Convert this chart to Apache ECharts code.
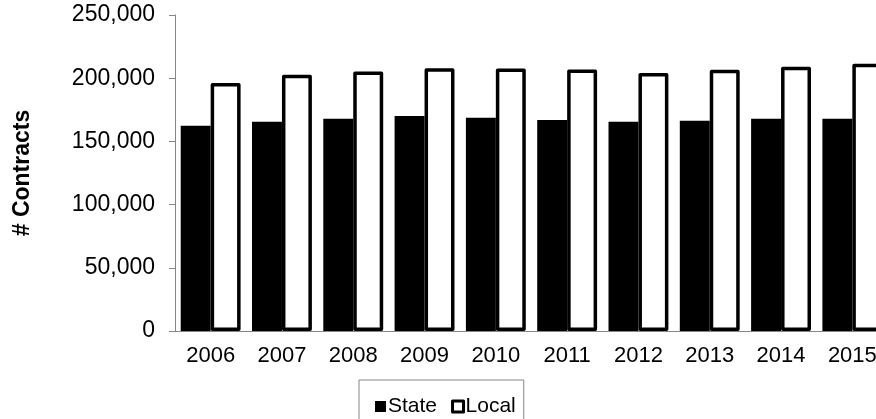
<!DOCTYPE html>
<html lang="en">
<head>
<meta charset="utf-8">
<title>Contracts</title>
<script src="https://cdn.jsdelivr.net/npm/echarts@6/dist/echarts.min.js"></script>
<style>
  html, body { margin: 0; padding: 0; background: #fff; }
  #main { width: 876px; height: 419px; }
</style>
</head>
<body>
<div id="main"></div>
<script type="text/javascript">
    // data
    let years = ['2006', '2007', '2008', '2009', '2010', '2011', '2012', '2013', '2014', '2015'];
    let stateValues = [162400, 165600, 167900, 170100, 168700, 166900, 165600, 166300, 167900, 167900];
    let localValues = [196300, 202700, 205300, 207900, 207600, 206900, 204200, 206600, 209000, 211400];
    let yTicks = [0, 50000, 100000, 150000, 200000, 250000];

    let font = 'Liberation Sans, Arial, sans-serif';
    let axisGray = '#868686';

    let chart = echarts.init(document.getElementById('main'));

    let option = {
        animation: false,
        grid: { left: 175, top: 15, width: 713, height: 316, outerBoundsMode: 'none', containLabel: false },
        legend: {
            left: 359,
            top: 380,
            padding: [16, 8, 14, 16],
            itemGap: 14,
            itemWidth: 11,
            itemHeight: 11,
            borderColor: axisGray,
            borderWidth: 1,
            textStyle: { fontFamily: font, fontSize: 21, color: '#000', padding: [0, 0, 0, -3] },
            data: [
                { name: 'State', icon: 'rect', itemStyle: { color: '#000' } },
                { name: 'Local', icon: 'rect', itemStyle: { color: '#fff', borderColor: '#000', borderWidth: 3 } }
            ]
        },
        xAxis: {
            type: 'category',
            data: years,
            axisLine: { lineStyle: { color: axisGray, width: 1 } },
            axisTick: { length: 6, lineStyle: { color: axisGray } },
            axisLabel: { fontFamily: font, fontSize: 22, color: '#000', margin: 14 }
        },
        yAxis: {
            type: 'value',
            min: yTicks[0],
            max: yTicks[yTicks.length - 1],
            interval: 50000,
            name: '# Contracts',
            nameLocation: 'middle',
            nameRotate: 90,
            nameGap: 141,
            nameTextStyle: { fontFamily: font, fontSize: 23, fontWeight: 'bold', color: '#000' },
            splitLine: { show: false },
            axisLine: { show: true, lineStyle: { color: axisGray, width: 1 } },
            axisTick: { show: true, length: 6, lineStyle: { color: axisGray } },
            axisLabel: {
                fontFamily: font, fontSize: 23, color: '#000', margin: 20,
                formatter: (v) => v.toLocaleString('en-US')
            }
        },
        series: [
            {
                name: 'State',
                type: 'bar',
                data: stateValues,
                barGap: '0%',
                barCategoryGap: '16%',
                itemStyle: { color: '#000' }
            },
            {
                name: 'Local',
                type: 'bar',
                data: localValues,
                itemStyle: { color: '#fff', borderColor: '#000', borderWidth: 3.5, borderJoin: 'round' }
            }
        ]
    };

    chart.setOption(option);
</script>
</body>
</html>
